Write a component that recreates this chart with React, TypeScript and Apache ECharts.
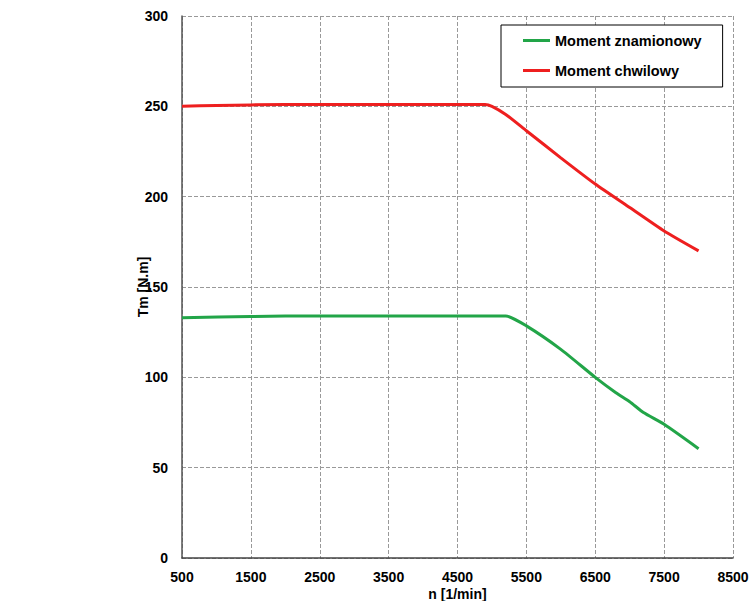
import React, { useEffect, useRef } from "react";
import * as echarts from "echarts";

const rpmZnam = [500, 1500, 2500, 3500, 4500, 5000, 5200, 5500, 6000, 6500, 6800, 7000, 7200, 7500, 8000];
const momentZnam = [133, 133.7, 134, 134, 134, 134, 134, 128.5, 115.5, 100, 91.5, 86.5, 80.5, 74, 60.5];

const rpmChw = [500, 1000, 2000, 3000, 4000, 4900, 5000, 5200, 5500, 6000, 6500, 7000, 7500, 8000];
const momentChw = [250, 250.5, 251, 251, 251, 251, 250, 245.5, 236.5, 221.5, 207, 194, 181, 170];

const seriesNames = ["Moment znamionowy", "Moment chwilowy"];
const seriesColors = ["#22a548", "#ee1f1f"];

const xName = "n [1/min]";
const yName = "Tm [N.m]";

const FONT = "'Liberation Sans', Arial, sans-serif";

export default function App() {
  const ref = useRef<HTMLDivElement>(null);
  useEffect(() => {
    if (!ref.current) return;
    const chart = echarts.init(ref.current, undefined, { renderer: "svg" });
    const toPairs = (xs: number[], ys: number[]) => xs.map((x, i) => [x, ys[i]]);
    chart.setOption({
      animation: false,
      backgroundColor: "#ffffff",
      textStyle: { fontFamily: FONT },
      grid: { left: 182, right: 17, top: 16, bottom: 43, containLabel: false, outerBoundsMode: "none" },
      legend: {
        orient: "vertical",
        left: 501,
        top: 25,
        width: 222,
        padding: [7, 21, 8, 22],
        itemWidth: 27,
        itemHeight: 3,
        itemGap: 13,
        backgroundColor: "#ffffff",
        borderColor: "#000000",
        borderWidth: 1,
        textStyle: { fontFamily: FONT, fontSize: 14.5, fontWeight: "bold", color: "#000", lineHeight: 17 },
        data: seriesNames.map((n) => ({ name: n, icon: "rect" })),
      },
      xAxis: {
        type: "value",
        min: 500,
        max: 8500,
        interval: 1000,
        name: xName,
        nameLocation: "middle",
        nameGap: 29,
        nameMoveOverlap: false,
        nameTextStyle: { fontFamily: FONT, fontSize: 14, fontWeight: "bold", color: "#000" },
        axisLine: { show: true, onZero: false, lineStyle: { color: "#444", width: 1.5 } },
        axisTick: { show: false },
        axisLabel: {
          margin: 12,
          fontFamily: FONT,
          fontSize: 14,
          fontWeight: "bold",
          color: "#000",
          formatter: (v: number) => String(v),
        },
        splitLine: { show: true, lineStyle: { color: "#999", type: "dashed", width: 1 } },
      },
      yAxis: {
        type: "value",
        min: 0,
        max: 300,
        interval: 50,
        name: yName,
        nameLocation: "middle",
        nameGap: 32,
        nameMoveOverlap: false,
        nameTextStyle: { fontFamily: FONT, fontSize: 14, fontWeight: "bold", color: "#000" },
        axisLine: { show: true, lineStyle: { color: "#555", width: 1.5 } },
        axisTick: { show: false },
        axisLabel: {
          margin: 14,
          fontFamily: FONT,
          fontSize: 14,
          fontWeight: "bold",
          color: "#000",
          formatter: (v: number) => String(v),
        },
        splitLine: { show: true, lineStyle: { color: "#999", type: "dashed", width: 1 } },
      },
      series: [
        {
          name: seriesNames[0],
          type: "line",
          data: toPairs(rpmZnam, momentZnam),
          showSymbol: false,
          smooth: 0.2,
          color: seriesColors[0],
          lineStyle: { width: 3, color: seriesColors[0] },
        },
        {
          name: seriesNames[1],
          type: "line",
          data: toPairs(rpmChw, momentChw),
          showSymbol: false,
          smooth: 0.2,
          color: seriesColors[1],
          lineStyle: { width: 3, color: seriesColors[1] },
        },
      ],
    });
    return () => chart.dispose();
  }, []);
  return <div ref={ref} style={{ width: 750, height: 601, position: "fixed", left: 0, top: 0 }} />;
}
